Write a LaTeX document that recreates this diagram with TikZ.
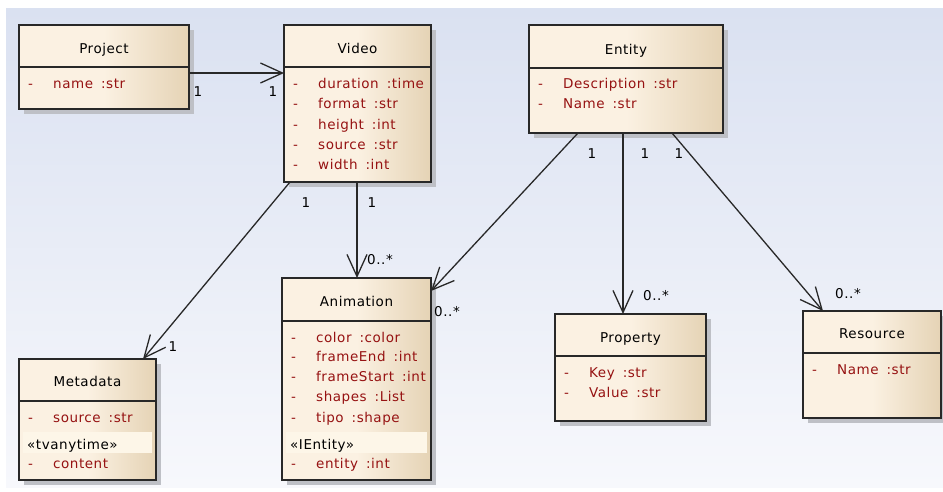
\documentclass[tikz,border=0pt]{standalone}
\usepackage{fontspec}
\newfontfamily\umlfont{DejaVu Sans}[LetterSpace=4]
\usetikzlibrary{arrows.meta,shadows,calc}

\definecolor{bgtop}{RGB}{218,225,241}
\definecolor{bgbot}{RGB}{247,248,252}
\definecolor{boxL}{RGB}{251,241,226}
\definecolor{boxR}{RGB}{229,211,181}
\definecolor{attr}{RGB}{150,18,18}
\definecolor{edge}{RGB}{40,40,40}
\definecolor{shade}{RGB}{190,192,198}
\definecolor{band}{RGB}{253,246,232}

\tikzset{
  classbox/.style={draw=edge, line width=1.6pt, inner sep=0pt, outer sep=0pt,
    anchor=north west, left color=boxL, right color=boxR, middle color=boxL,
    drop shadow={shadow xshift=5pt, shadow yshift=-5pt, fill=shade, opacity=1}},
  umltext/.style={font=\umlfont\fontsize{13.5}{16}\selectfont, inner sep=0pt},
  titletext/.style={umltext, text=black, anchor=base},
  attrtext/.style={umltext, text=attr, anchor=base west},
  stereo/.style={umltext, text=black, anchor=base west},
  mult/.style={umltext, text=black, anchor=base},
  assoc/.style={draw=edge, line width=1.3pt,
    -{Straight Barb[length=22pt,width=20pt,line width=1.3pt]}},
}

% class box: name, left, top, right, divider, bottom, title, title centre y
\newcommand\umlclass[8]{%
  \pgfmathsetmacro\boxw{#4-#2}%
  \pgfmathsetmacro\boxh{#6-#3}%
  \pgfmathsetmacro\boxc{(#2+#4)/2}%
  \node[classbox, minimum width=\boxw pt, minimum height=\boxh pt] (#1) at (#2,#3) {};
  \draw[draw=edge, line width=1.6pt] (#2,#5) -- (#4,#5);
  \node[titletext] (#1-title) at (\boxc,#8+5) {#7};
}
% attribute row: node name, box left, row centre y, text
\newcommand\umlattr[4]{%
  \node[attrtext] (#1-v) at (#2+9,#3+5) {-};
  \node[attrtext] (#1) at (#2+34,#3+5) {#4};
}
% stereotype band: node name, box left, box right, text
\newcommand\umlstereo[4]{%
  \fill[band] (#2+4,432) rectangle (#3-4,453);
  \node[stereo] (#1) at (#2+8,444+5) {#4};
}
\newcommand\ty[1]{\hspace{8pt}:#1}

\begin{document}
\begin{tikzpicture}[x=1pt,y=-1pt]
  \useasboundingbox (0,0) rectangle (943,491);
  \fill[white] (0,0) rectangle (943,491);
  \shade[top color=bgtop, bottom color=bgbot] (6,8) rectangle (943,487);

  % classes
  \umlclass{project}{19}{25}{189}{67}{109}{Project}{48}
  \umlattr{project-a1}{19}{83}{name\ty{str}}

  \umlclass{video}{284}{25}{431}{67}{182}{Video}{48}
  \umlattr{video-a1}{284}{83}{duration\ty{time}}
  \umlattr{video-a2}{284}{103}{format\ty{str}}
  \umlattr{video-a3}{284}{124}{height\ty{int}}
  \umlattr{video-a4}{284}{144}{source\ty{str}}
  \umlattr{video-a5}{284}{164}{width\ty{int}}

  \umlclass{entity}{529}{25}{723}{68}{133}{Entity}{49}
  \umlattr{entity-a1}{529}{83}{Description\ty{str}}
  \umlattr{entity-a2}{529}{103}{Name\ty{str}}

  \umlclass{metadata}{19}{359}{156}{401}{480}{Metadata}{381}
  \umlattr{metadata-a1}{19}{417}{source\ty{str}}
  \umlstereo{metadata-s}{19}{156}{«tvanytime»}
  \umlattr{metadata-a2}{19}{463}{content}

  \umlclass{animation}{282}{278}{431}{321}{480}{Animation}{301}
  \umlattr{animation-a1}{282}{337}{color\ty{color}}
  \umlattr{animation-a2}{282}{356}{frameEnd\ty{int}}
  \umlattr{animation-a3}{282}{376}{frameStart\ty{int}}
  \umlattr{animation-a4}{282}{396}{shapes\ty{List}}
  \umlattr{animation-a5}{282}{417}{tipo\ty{shape}}
  \umlstereo{animation-s}{282}{431}{«IEntity»}
  \umlattr{animation-a6}{282}{463}{entity\ty{int}}

  \umlclass{property}{555}{314}{706}{356}{421}{Property}{337}
  \umlattr{property-a1}{555}{372}{Key\ty{str}}
  \umlattr{property-a2}{555}{392}{Value\ty{str}}

  \umlclass{resource}{803}{311}{941}{353}{418}{Resource}{333}
  \umlattr{resource-a1}{803}{369}{Name\ty{str}}

  % associations
  \draw[assoc] ($(project.north east)+(0,48)$) -- ($(video.north west)+(0,48)$);
  \draw[assoc] ($(video.south west)+(6,0)$) -- ($(metadata.north east)+(-13,0)$);
  \draw[assoc] ($(video.south west)+(73,0)$) -- ($(animation.north west)+(75,0)$);
  \draw[assoc] ($(entity.south west)+(49,0)$) -- ($(animation.north east)+(0,13)$);
  \draw[assoc] ($(entity.south west)+(94,0)$) -- ($(property.north west)+(68,0)$);
  \draw[assoc] ($(entity.south west)+(143,0)$) -- ($(resource.north west)+(20,0)$);

  % multiplicities
  \node[mult] (m1) at (198,91+5) {1};
  \node[mult] (m2) at (273,91+5) {1};
  \node[mult] (m3) at (306,202+5) {1};
  \node[mult] (m4) at (173,346+5) {1};
  \node[mult] (m5) at (372,202+5) {1};
  \node[mult] (m6) at (380,259+5) {0..*};
  \node[mult] (m7) at (592,153+5) {1};
  \node[mult] (m8) at (447,311+5) {0..*};
  \node[mult] (m9) at (645,153+5) {1};
  \node[mult] (m10) at (656,295+5) {0..*};
  \node[mult] (m11) at (679,153+5) {1};
  \node[mult] (m12) at (848,293+5) {0..*};
\end{tikzpicture}
\end{document}
